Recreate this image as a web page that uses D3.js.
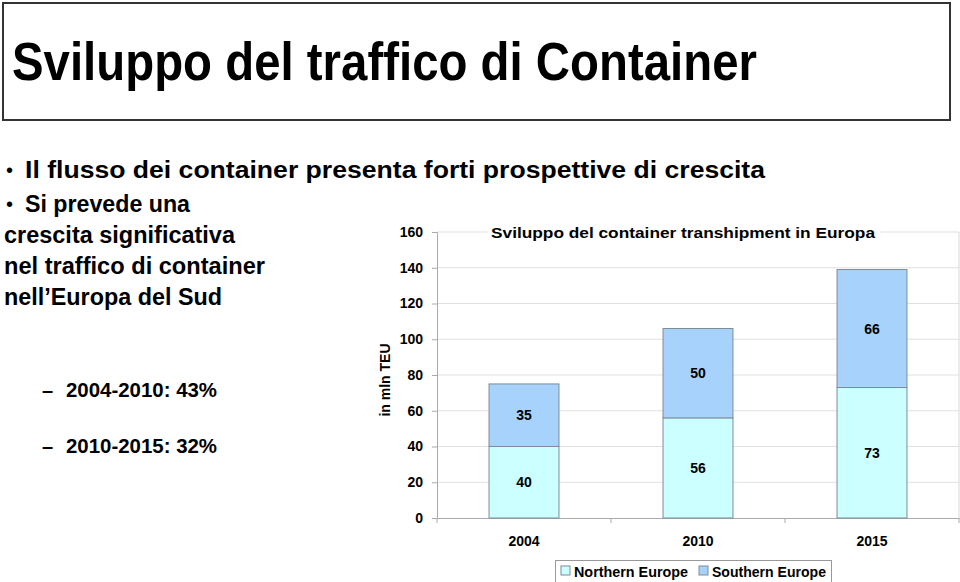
<!DOCTYPE html>
<html>
<head>
<meta charset="utf-8">
<script src="https://cdn.jsdelivr.net/npm/d3@7"></script>
<style>
  html, body { margin: 0; padding: 0; background: #fff; }
  svg { display: block; font-family: "Liberation Sans", Arial, sans-serif; }
</style>
</head>
<body>
<svg id="chart" width="960" height="582"></svg>
<script>
// ---- data ----
const years = ["2004", "2010", "2015"];
const northern = [40, 56, 73];
const southern = [35, 50, 66];
const seriesNames = ["Northern Europe", "Southern Europe"];
const yTicks = [0, 20, 40, 60, 80, 100, 120, 140, 160];
const pageTitle = "Sviluppo del traffico di Container";
const chartTitle = "Sviluppo del container transhipment in Europa";
const yLabel = "in mln TEU";
const bullets = [
  "Il flusso dei container presenta forti prospettive di crescita",
  "Si prevede una"
];
const bodyLines = ["crescita significativa", "nel traffico di container", "nell\u2019Europa del Sud"];
const subItems = ["2004-2010: 43%", "2010-2015: 32%"];

const svg = d3.select("#chart");
const colors = ["#ccffff", "#a6d2fb"];
const FONT = "Liberation Sans, Arial, sans-serif";

// ---- header box ----
svg.append("rect").attr("x", 3).attr("y", 3).attr("width", 947).attr("height", 117)
  .attr("fill", "#fff").attr("stroke", "#333").attr("stroke-width", 2);
svg.append("text").attr("x", 12).attr("y", 80)
  .attr("font-size", 54).attr("font-weight", "bold")
  .attr("textLength", 745).attr("lengthAdjust", "spacingAndGlyphs")
  .text(pageTitle);

// ---- bullet text ----
const bulletY = [178, 212];
const bulletW = [740, 165];
bullets.forEach((t, i) => {
  svg.append("text").attr("x", 6).attr("y", bulletY[i] - 1).attr("font-size", 20).text("\u2022");
  svg.append("text").attr("x", 25).attr("y", bulletY[i])
    .attr("font-size", 23).attr("font-weight", "bold")
    .attr("textLength", bulletW[i]).attr("lengthAdjust", "spacingAndGlyphs")
    .text(t);
});
const bodyY = [243, 274, 305];
const bodyW = [231, 261, 218];
bodyLines.forEach((t, i) => {
  svg.append("text").attr("x", 4).attr("y", bodyY[i])
    .attr("font-size", 23).attr("font-weight", "bold")
    .attr("textLength", bodyW[i]).attr("lengthAdjust", "spacingAndGlyphs")
    .text(t);
});
const subY = [397, 453];
subItems.forEach((t, i) => {
  svg.append("text").attr("x", 42).attr("y", subY[i]).attr("font-size", 20).attr("font-weight", "bold").text("\u2013");
  svg.append("text").attr("x", 66).attr("y", subY[i])
    .attr("font-size", 20).attr("font-weight", "bold")
    .attr("textLength", 151).attr("lengthAdjust", "spacingAndGlyphs")
    .text(t);
});

// ---- chart ----
const x0 = 437, x1 = 959, yTop = 232, yBottom = 518;
const x = d3.scaleBand().domain(years).range([x0, x1]).paddingInner(0.598).paddingOuter(0.299);
const y = d3.scaleLinear().domain([0, 160]).range([yBottom, yTop]);

const g = svg.append("g");
g.selectAll("line.grid").data(yTicks.filter(d => d > 0)).enter().append("line")
  .attr("x1", x0).attr("x2", x1).attr("y1", d => y(d)).attr("y2", d => y(d))
  .attr("stroke", "#e0e0e0").attr("stroke-width", 1);
g.append("line").attr("x1", x1).attr("x2", x1).attr("y1", yTop).attr("y2", yBottom)
  .attr("stroke", "#d8d8d8");

// y axis
const yAxis = d3.axisLeft(y).tickValues(yTicks).tickSize(5).tickPadding(9);
const yg = svg.append("g").attr("transform", `translate(${x0},0)`).call(yAxis);
yg.select(".domain").attr("stroke", "#aaa");
yg.selectAll(".tick line").attr("stroke", "#aaa");
yg.selectAll(".tick text").attr("font-size", 14).attr("font-weight", "bold")
  .attr("fill", "#000").attr("font-family", FONT);

// x axis
const xAxis = d3.axisBottom(x).tickSize(0).tickPadding(18);
const xg = svg.append("g").attr("transform", `translate(0,${yBottom})`).call(xAxis);
xg.select(".domain").attr("stroke", "#aaa");
xg.selectAll(".tick text").attr("font-size", 14).attr("font-weight", "bold")
  .attr("fill", "#000").attr("font-family", FONT);
const step = x.step();
xg.selectAll("line.sep").data(d3.range(years.length + 1)).enter().append("line")
  .attr("x1", i => x0 + i * step).attr("x2", i => x0 + i * step)
  .attr("y1", 0).attr("y2", 5).attr("stroke", "#aaa");

// stacked bars
const stackData = years.map((yr, i) => ({ year: yr, n: northern[i], s: southern[i] }));
const stack = d3.stack().keys(["n", "s"])(stackData);
stack.forEach((layer, li) => {
  svg.append("g").selectAll("rect").data(layer).enter().append("rect")
    .attr("x", d => x(d.data.year))
    .attr("width", x.bandwidth())
    .attr("y", d => y(d[1]))
    .attr("height", d => y(d[0]) - y(d[1]))
    .attr("fill", colors[li]).attr("stroke", "#7f8c96").attr("stroke-width", 1);
  svg.append("g").selectAll("text").data(layer).enter().append("text")
    .attr("x", d => x(d.data.year) + x.bandwidth() / 2)
    .attr("y", d => y((d[0] + d[1]) / 2) + 5)
    .attr("text-anchor", "middle").attr("font-size", 14).attr("font-weight", "bold")
    .text(d => d[1] - d[0]);
});

// chart title with white background
svg.append("rect").attr("x", 488).attr("y", 224).attr("width", 392).attr("height", 18).attr("fill", "#fff");
svg.append("text").attr("x", 683).attr("y", 238)
  .attr("text-anchor", "middle").attr("font-size", 15).attr("font-weight", "bold")
  .attr("textLength", 384).attr("lengthAdjust", "spacingAndGlyphs")
  .text(chartTitle);

// y label
svg.append("text").attr("transform", "translate(390,380) rotate(-90)")
  .attr("text-anchor", "middle").attr("font-size", 14).attr("font-weight", "bold")
  .text(yLabel);

// legend
const lg = svg.append("g");
lg.append("rect").attr("x", 555.5).attr("y", 560.5).attr("width", 276).attr("height", 24)
  .attr("fill", "#fff").attr("stroke", "#999");
const legX = [561, 699];
seriesNames.forEach((n, i) => {
  lg.append("rect").attr("x", legX[i]).attr("y", 566).attr("width", 9).attr("height", 9)
    .attr("fill", colors[i]).attr("stroke", "#7f8c96");
  lg.append("text").attr("x", legX[i] + 13).attr("y", 577).attr("font-size", 14)
    .attr("font-weight", "bold")
    .attr("textLength", 114).attr("lengthAdjust", "spacingAndGlyphs")
    .text(n);
});
</script>
</body>
</html>
